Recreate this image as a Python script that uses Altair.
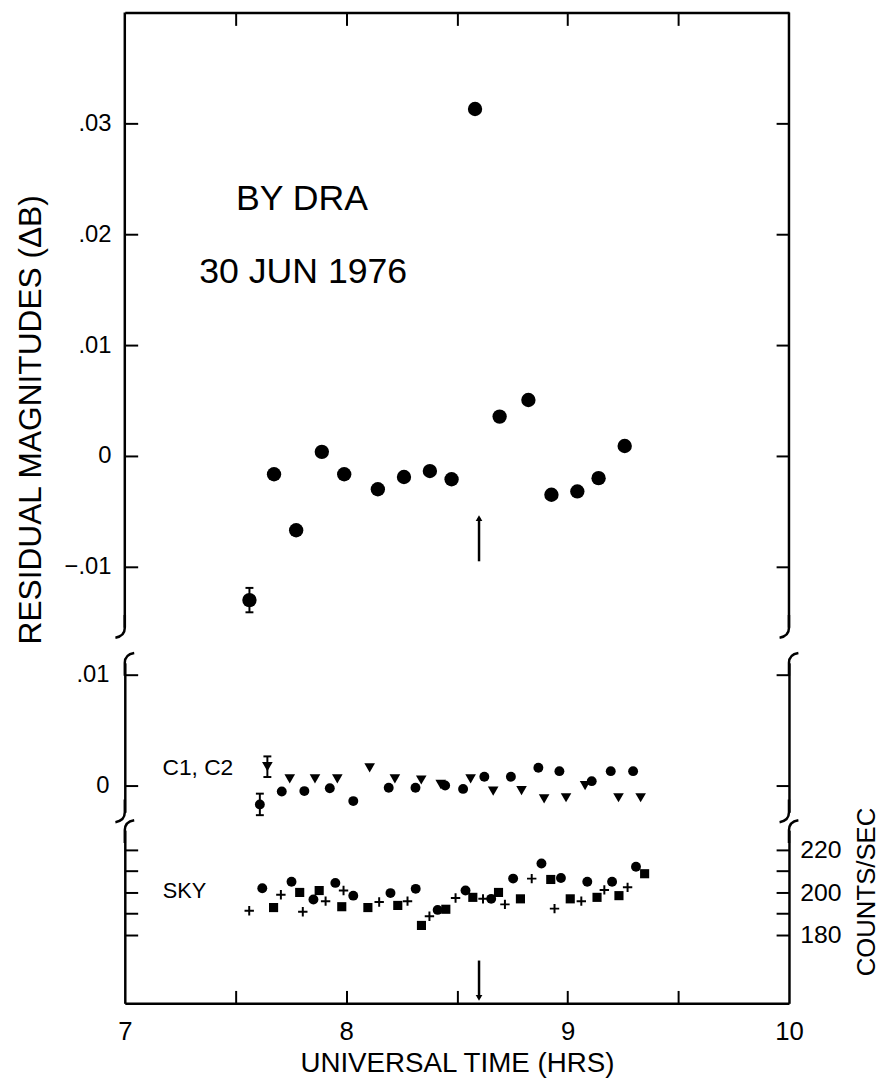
import altair as alt
import pandas as pd

# ----------------------------- data -----------------------------
# top panel: BY Dra residual magnitudes (Delta B)
top_time = [7.563, 7.674, 7.774, 7.890, 7.991, 8.143, 8.261, 8.378,
            8.476, 8.582, 8.693, 8.823, 8.927, 9.044, 9.140, 9.258]
top_dmag = [-0.0130, -0.00165, -0.0067, 0.00037, -0.00165, -0.0030, -0.0019, -0.00136,
            -0.0021, 0.0313, 0.00355, 0.00505, -0.0035, -0.0032, -0.0020, 0.0009]
top_err_time = [7.563]
top_err_val = [-0.0130]
top_err_half = [0.0011]

# middle panel: comparison stars C1 (circles) and C2 (triangles)
c1_time = [7.610, 7.709, 7.811, 7.926, 8.032, 8.192, 8.313, 8.447,
           8.528, 8.624, 8.744, 8.868, 8.963, 9.109, 9.195, 9.296]
c1_val = [-0.0017, -0.00054, -0.0005, -0.00024, -0.0014, -0.0002, -0.0002, 0.0,
          -0.0003, 0.0008, 0.0008, 0.0016, 0.0013, 0.0004, 0.0013, 0.0013]
c2_time = [7.644, 7.745, 7.859, 7.960, 8.106, 8.220, 8.339, 8.427,
           8.562, 8.664, 8.792, 8.894, 8.993, 9.079, 9.230, 9.330]
c2_val = [0.0017, 0.0006, 0.0006, 0.0006, 0.0016, 0.0006, 0.0005, 0.0001,
          0.0006, -0.0005, -0.00045, -0.0012, -0.0011, 0.0, -0.0011, -0.0011]
cmp_err_time = [7.610, 7.644]
cmp_err_val = [-0.0017, 0.0017]
cmp_err_half = [0.00097, 0.00093]

# bottom panel: sky counts/sec
sky_plus_time = [7.562, 7.705, 7.804, 7.907, 7.988, 8.149, 8.277, 8.376,
                 8.494, 8.618, 8.717, 8.838, 8.941, 9.062, 9.166, 9.271]
sky_plus_val = [191.4, 198.9, 190.9, 195.9, 200.9, 195.5, 195.9, 188.8,
                197.4, 197.0, 194.4, 206.5, 192.4, 195.9, 201.2, 202.4]
sky_circ_time = [7.621, 7.753, 7.852, 7.951, 8.032, 8.200, 8.314, 8.413,
                 8.539, 8.655, 8.754, 8.882, 8.970, 9.089, 9.201, 9.309]
sky_circ_val = [202.0, 205.0, 196.7, 204.5, 198.5, 199.7, 201.7, 191.8,
                200.9, 197.0, 206.5, 213.6, 206.8, 205.0, 205.0, 212.1]
sky_sq_time = [7.672, 7.790, 7.878, 7.980, 8.098, 8.233, 8.340, 8.450,
               8.572, 8.688, 8.787, 8.924, 9.012, 9.133, 9.232, 9.348]
sky_sq_val = [192.9, 200.0, 200.9, 193.3, 192.9, 193.9, 184.5, 192.1,
              197.7, 200.0, 197.0, 206.1, 197.0, 197.7, 198.5, 208.8]

arrow_time = [8.6]
top_arrow = [-0.0095, -0.0056]
sky_arrow = [168.0, 150.5]

x_label_vals = [7, 8, 9, 10]
x_tick_vals = [7.5, 8, 8.5, 9, 9.5]
top_tick_vals = [-0.01, 0, 0.01, 0.02, 0.03]
mid_tick_vals = [0, 0.01]
sky_label_vals = [180, 200, 220]
sky_tick_vals = [180, 190, 200, 210, 220]

annot_text = ["BY DRA", "30 JUN 1976"]
annot_time = [7.502, 7.336]
annot_val = [0.0232, 0.0166]

# ----------------------------- layout -----------------------------
FONT = "Liberation Sans"
W = 671
H_TOP, H_MID, H_BOT = 639, 151, 175
XDOM = [7, 10]
TOP_DOM = [-0.01705, 0.04]
TOP_LO = -0.0155
MID_DOM = [-0.00241, 0.01107]
BOT_DOM = [147.9, 229.3]
LW = 2.5

xscale = alt.Scale(domain=XDOM, nice=False, zero=False)
ys_top = alt.Scale(domain=TOP_DOM, nice=False, zero=False)
ys_mid = alt.Scale(domain=MID_DOM, nice=False, zero=False)
ys_bot = alt.Scale(domain=BOT_DOM, nice=False, zero=False)

MAG_LABEL = "datum.value == 0 ? '0' : replace(format(datum.value, '.2f'), '0.', '.')"

BOTTOM_CURL = "M0,-1.3L0,0C0,0.55,-0.35,0.9,-0.95,1"
TOP_CURL = "M0,1.3L0,0C0,-0.55,0.35,-0.9,0.95,-1"
CAP = "M-1,0L1,0"
PLUS = "M-1,0L1,0M0,-1L0,1"


def inward(orient, offset, values):
    return alt.Axis(orient=orient, offset=offset, values=values, domain=False,
                    labels=False, ticks=True, tickSize=13, tickWidth=2,
                    tickColor="black", title=None, grid=False)


def plain(orient, domain=True):
    return alt.Axis(orient=orient, domain=domain, ticks=False, labels=False,
                    title=None, grid=False, domainColor="black", domainWidth=LW)


def curls(tvals, yvals, path, yscale):
    df = pd.DataFrame({"t": tvals, "v": yvals})
    return alt.Chart(df).mark_point(shape=path, filled=False, size=400,
                                    strokeWidth=LW, color="black", opacity=1).encode(
        x=alt.X("t:Q", scale=xscale, axis=None),
        y=alt.Y("v:Q", scale=yscale, axis=None))


# ---------- top panel ----------
top_df = pd.DataFrame({"t": top_time, "v": top_dmag})
top_pts = alt.Chart(top_df).mark_point(filled=True, shape="circle", size=210,
                                       color="black", opacity=1).encode(
    x=alt.X("t:Q", scale=xscale, axis=plain("top")),
    y=alt.Y("v:Q", scale=ys_top, axis=alt.Axis(
        orient="left", values=top_tick_vals, labelExpr=MAG_LABEL, domain=False,
        ticks=False, grid=False, labelPadding=14,
        title="RESIDUAL MAGNITUDES (ΔB)", titleFontSize=32, titleAngle=270,
        titleAlign="center", titleBaseline="middle", titleX=-95, titleY=411)))

frame_df = pd.DataFrame({"t": XDOM, "lo": [TOP_LO, TOP_LO], "hi": [TOP_DOM[1], TOP_DOM[1]]})
top_frame = alt.Chart(frame_df).mark_rule(color="black", strokeWidth=LW).encode(
    x=alt.X("t:Q", scale=xscale, axis=inward("bottom", -H_TOP, x_tick_vals)),
    y=alt.Y("lo:Q", scale=ys_top, axis=inward("right", -W, top_tick_vals)),
    y2="hi:Q")

terr_df = pd.DataFrame({"t": top_err_time,
                        "lo": [v - e for v, e in zip(top_err_val, top_err_half)],
                        "hi": [v + e for v, e in zip(top_err_val, top_err_half)]})
top_err = alt.Chart(terr_df).mark_rule(color="black", strokeWidth=2).encode(
    x=alt.X("t:Q", scale=xscale, axis=None),
    y=alt.Y("lo:Q", scale=ys_top, axis=inward("left", -W, top_tick_vals)),
    y2="hi:Q")
tcap_df = pd.DataFrame({"t": top_err_time * 2,
                        "v": list(terr_df["lo"]) + list(terr_df["hi"])})
top_caps = alt.Chart(tcap_df).mark_point(shape=CAP, filled=False, size=64,
                                         strokeWidth=2, color="black", opacity=1).encode(
    x=alt.X("t:Q", scale=xscale, axis=None),
    y=alt.Y("v:Q", scale=ys_top, axis=None))

tarr_df = pd.DataFrame({"t": arrow_time, "lo": [top_arrow[0]], "hi": [top_arrow[1]]})
top_arrow_line = alt.Chart(tarr_df).mark_rule(color="black", strokeWidth=2.5).encode(
    x=alt.X("t:Q", scale=xscale, axis=None),
    y=alt.Y("lo:Q", scale=ys_top, axis=None), y2="hi:Q")
top_arrow_head = alt.Chart(tarr_df).mark_point(shape="triangle-up", filled=True, size=45,
                                               color="black", opacity=1).encode(
    x=alt.X("t:Q", scale=xscale, axis=None),
    y=alt.Y("hi:Q", scale=ys_top, axis=None))

ann_df = pd.DataFrame({"t": annot_time, "v": annot_val, "label": annot_text})
top_text = alt.Chart(ann_df).mark_text(font=FONT, fontSize=36, color="black",
                                       align="left", baseline="middle").encode(
    x=alt.X("t:Q", scale=xscale, axis=None),
    y=alt.Y("v:Q", scale=ys_top, axis=None), text="label:N")

top_panel = alt.layer(
    top_pts, top_frame, top_err, top_caps, top_arrow_line, top_arrow_head, top_text,
    curls(XDOM, [TOP_LO, TOP_LO], BOTTOM_CURL, ys_top)
).resolve_axis(x="independent", y="independent").properties(width=W, height=H_TOP)

# ---------- middle panel ----------
c1_df = pd.DataFrame({"t": c1_time, "v": c1_val})
c2_df = pd.DataFrame({"t": c2_time, "v": c2_val})
mid_c1 = alt.Chart(c1_df).mark_point(filled=True, shape="circle", size=100,
                                     color="black", opacity=1).encode(
    x=alt.X("t:Q", scale=xscale, axis=None),
    y=alt.Y("v:Q", scale=ys_mid, axis=alt.Axis(
        orient="left", values=mid_tick_vals, labelExpr=MAG_LABEL, domain=True,
        ticks=False, grid=False, labelPadding=16, title=None)))
mid_c2 = alt.Chart(c2_df).mark_point(filled=True, shape="triangle-down", size=115,
                                     color="black", opacity=1).encode(
    x=alt.X("t:Q", scale=xscale, axis=None),
    y=alt.Y("v:Q", scale=ys_mid, axis=plain("right")))

cerr_df = pd.DataFrame({"t": cmp_err_time,
                        "lo": [v - e for v, e in zip(cmp_err_val, cmp_err_half)],
                        "hi": [v + e for v, e in zip(cmp_err_val, cmp_err_half)]})
mid_err = alt.Chart(cerr_df).mark_rule(color="black", strokeWidth=2).encode(
    x=alt.X("t:Q", scale=xscale, axis=None),
    y=alt.Y("lo:Q", scale=ys_mid, axis=inward("right", -W, mid_tick_vals)),
    y2="hi:Q")
ccap_df = pd.DataFrame({"t": cmp_err_time * 2,
                        "v": list(cerr_df["lo"]) + list(cerr_df["hi"])})
mid_caps = alt.Chart(ccap_df).mark_point(shape=CAP, filled=False, size=64,
                                         strokeWidth=2, color="black", opacity=1).encode(
    x=alt.X("t:Q", scale=xscale, axis=None),
    y=alt.Y("v:Q", scale=ys_mid, axis=inward("left", -W, mid_tick_vals)))

mlab_df = pd.DataFrame({"t": [7.33], "v": [0.0016], "label": ["C1, C2"]})
mid_text = alt.Chart(mlab_df).mark_text(font=FONT, fontSize=23, color="black",
                                        align="center", baseline="middle").encode(
    x=alt.X("t:Q", scale=xscale, axis=None),
    y=alt.Y("v:Q", scale=ys_mid, axis=None), text="label:N")

mid_panel = alt.layer(
    mid_c1, mid_c2, mid_err, mid_caps, mid_text,
    curls(XDOM, [MID_DOM[1]] * 2, TOP_CURL, ys_mid),
    curls(XDOM, [MID_DOM[0]] * 2, BOTTOM_CURL, ys_mid)
).resolve_axis(x="independent", y="independent").properties(width=W, height=H_MID)

# ---------- bottom panel ----------
circ_df = pd.DataFrame({"t": sky_circ_time, "v": sky_circ_val})
sq_df = pd.DataFrame({"t": sky_sq_time, "v": sky_sq_val})
plus_df = pd.DataFrame({"t": sky_plus_time, "v": sky_plus_val})

bot_circ = alt.Chart(circ_df).mark_point(filled=True, shape="circle", size=100,
                                         color="black", opacity=1).encode(
    x=alt.X("t:Q", scale=xscale, axis=alt.Axis(
        orient="bottom", values=x_label_vals, domain=True, ticks=False, grid=False,
        labelPadding=16, labelFontSize=26, labelFlush=False,
        title="UNIVERSAL TIME (HRS)", titleFontSize=28,
        titleBaseline="middle", titleY=61)),
    y=alt.Y("v:Q", scale=ys_bot, axis=alt.Axis(
        orient="right", values=sky_label_vals, domain=True, ticks=False, grid=False,
        labelPadding=11, labelFontSize=25, title="COUNTS/SEC", titleAngle=270,
        titleAlign="center", titleBaseline="middle", titleX=78, titleY=62)))
bot_sq = alt.Chart(sq_df).mark_point(filled=True, shape="square", size=85,
                                     color="black", opacity=1).encode(
    x=alt.X("t:Q", scale=xscale, axis=inward("top", -H_BOT, x_tick_vals)),
    y=alt.Y("v:Q", scale=ys_bot, axis=plain("left")))
bot_plus = alt.Chart(plus_df).mark_point(shape=PLUS, filled=False, size=90,
                                         strokeWidth=2, color="black", opacity=1).encode(
    x=alt.X("t:Q", scale=xscale, axis=None),
    y=alt.Y("v:Q", scale=ys_bot, axis=inward("right", -W, sky_tick_vals)))

barr_df = pd.DataFrame({"t": arrow_time, "lo": [sky_arrow[1]], "hi": [sky_arrow[0]]})
bot_arrow_line = alt.Chart(barr_df).mark_rule(color="black", strokeWidth=2.5).encode(
    x=alt.X("t:Q", scale=xscale, axis=None),
    y=alt.Y("lo:Q", scale=ys_bot, axis=inward("left", -W, sky_tick_vals)), y2="hi:Q")
bot_arrow_head = alt.Chart(barr_df).mark_point(shape="triangle-down", filled=True, size=45,
                                               color="black", opacity=1).encode(
    x=alt.X("t:Q", scale=xscale, axis=None),
    y=alt.Y("lo:Q", scale=ys_bot, axis=None))

blab_df = pd.DataFrame({"t": [7.27], "v": [200.5], "label": ["SKY"]})
bot_text = alt.Chart(blab_df).mark_text(font=FONT, fontSize=22, color="black",
                                        align="center", baseline="middle").encode(
    x=alt.X("t:Q", scale=xscale, axis=None),
    y=alt.Y("v:Q", scale=ys_bot, axis=None), text="label:N")

bot_panel = alt.layer(
    bot_circ, bot_sq, bot_plus, bot_arrow_line, bot_arrow_head, bot_text,
    curls(XDOM, [BOT_DOM[1]] * 2, TOP_CURL, ys_bot)
).resolve_axis(x="independent", y="independent").properties(width=W, height=H_BOT)

chart = alt.vconcat(top_panel, mid_panel, bot_panel, spacing=18, bounds="flush").properties(
    padding={"left": 7, "top": -3, "right": 5, "bottom": 5}, background="white"
).configure_view(stroke=None).configure_axis(
    labelFont=FONT, labelFontSize=24, labelColor="black",
    titleFont=FONT, titleFontSize=26, titleFontWeight="normal", titleColor="black",
    domainColor="black", domainWidth=LW, tickColor="black", labelOverlap=False,
    labelFlush=False
)

chart.save("out.html", embed_options={"renderer": "svg", "actions": False})
